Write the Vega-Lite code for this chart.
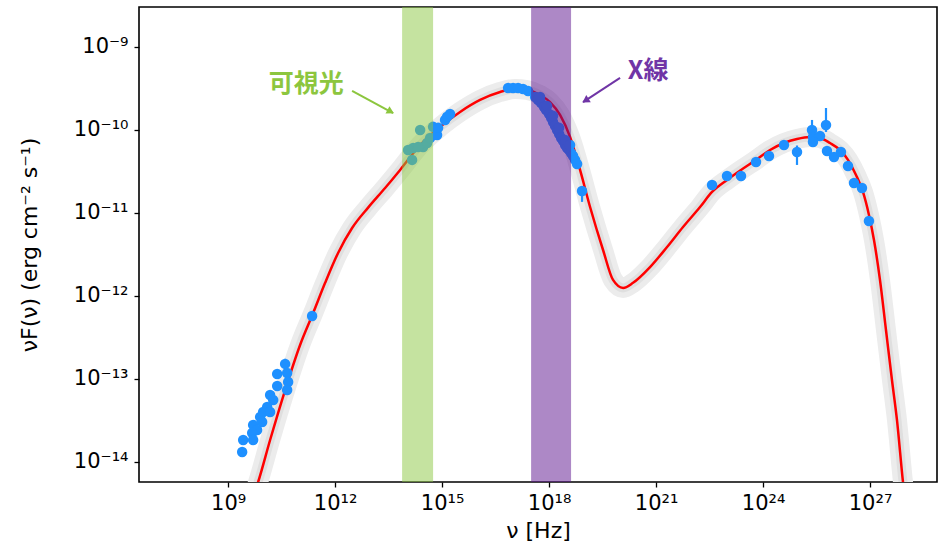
{
  "$schema": "https://vega.github.io/schema/vega-lite/v6.json",
  "width": 798,
  "height": 475,
  "autosize": {"type": "none"},
  "padding": {"left": 139, "top": 7, "right": 14, "bottom": 67},
  "background": "white",
  "config": {
    "font": "DejaVu Sans",
    "view": {"stroke": "black", "strokeWidth": 1.6},
    "axis": {"grid": false, "domain": false, "ticks": true, "tickColor": "black", "tickSize": 5, "tickWidth": 1.3, "labelColor": "black", "labelFontSize": 21, "titleFontSize": 22, "titleColor": "black", "titleFontWeight": "normal", "labelFont": "DejaVu Sans", "titleFont": "DejaVu Sans", "labelFlush": false, "labelOverlap": false}
  },
  "datasets": {
    "curve": [
      {"nu": 5.36e9, "f": 4.11e-15}, {"nu": 6.93e9, "f": 5.74e-15}, {"nu": 1.50e10, "f": 1.84e-14}, {"nu": 3.96e10, "f": 7.36e-14},
      {"nu": 1.04e11, "f": 2.57e-13}, {"nu": 2.42e11, "f": 6.24e-13}, {"nu": 5.24e11, "f": 1.44e-12}, {"nu": 1.21e12, "f": 3.30e-12},
      {"nu": 2.99e12, "f": 6.59e-12}, {"nu": 8.41e12, "f": 1.16e-11}, {"nu": 2.52e13, "f": 2.00e-11}, {"nu": 6.64e13, "f": 3.30e-11},
      {"nu": 2.42e14, "f": 6.59e-11}, {"nu": 8.77e14, "f": 1.09e-10}, {"nu": 3.19e15, "f": 1.65e-10}, {"nu": 1.16e16, "f": 2.30e-10},
      {"nu": 4.23e16, "f": 2.87e-10}, {"nu": 1.11e17, "f": 3.12e-10}, {"nu": 2.42e17, "f": 3.03e-10}, {"nu": 5.58e17, "f": 2.64e-10},
      {"nu": 1.06e18, "f": 2.17e-10}, {"nu": 2.03e18, "f": 1.52e-10}, {"nu": 3.87e18, "f": 8.24e-11}, {"nu": 7.38e18, "f": 3.30e-11},
      {"nu": 1.41e19, "f": 1.18e-11}, {"nu": 3.26e19, "f": 3.58e-12}, {"nu": 6.21e19, "f": 1.56e-12}, {"nu": 1.19e20, "f": 1.25e-12},
      {"nu": 2.26e20, "f": 1.44e-12}, {"nu": 6.78e20, "f": 2.23e-12}, {"nu": 2.03e21, "f": 3.89e-12}, {"nu": 5.70e21, "f": 6.78e-12},
      {"nu": 1.71e22, "f": 1.18e-11}, {"nu": 3.71e22, "f": 1.79e-11}, {"nu": 9.75e22, "f": 2.50e-11}, {"nu": 2.41e23, "f": 3.30e-11},
      {"nu": 6.34e23, "f": 4.36e-11}, {"nu": 1.57e24, "f": 5.74e-11}, {"nu": 3.86e24, "f": 6.97e-11}, {"nu": 8.95e24, "f": 7.80e-11},
      {"nu": 2.07e25, "f": 8.24e-11}, {"nu": 3.95e25, "f": 8.02e-11}, {"nu": 7.53e25, "f": 6.97e-11}, {"nu": 1.44e26, "f": 5.74e-11},
      {"nu": 2.41e26, "f": 4.36e-11}, {"nu": 4.04e26, "f": 2.87e-11}, {"nu": 6.34e26, "f": 1.79e-11}, {"nu": 9.33e26, "f": 9.46e-12},
      {"nu": 1.29e27, "f": 4.73e-12}, {"nu": 1.90e27, "f": 1.56e-12}, {"nu": 2.80e27, "f": 3.89e-13}, {"nu": 4.12e27, "f": 9.72e-14},
      {"nu": 5.69e27, "f": 3.21e-14}, {"nu": 8.39e27, "f": 5.74e-15}, {"nu": 9.55e27, "f": 3.48e-15}
    ],
    "points": [
      {"nu": 2.26e11, "f": 5.74e-13}, {"nu": 3.96e10, "f": 1.52e-13}, {"nu": 2.37e10, "f": 1.15e-13}, {"nu": 4.51e10, "f": 1.18e-13},
      {"nu": 4.81e10, "f": 9.20e-14}, {"nu": 2.37e10, "f": 8.24e-14}, {"nu": 4.51e10, "f": 7.36e-14}, {"nu": 1.50e10, "f": 6.41e-14},
      {"nu": 1.83e10, "f": 5.58e-14}, {"nu": 1.24e10, "f": 4.60e-14}, {"nu": 9.57e9, "f": 4.00e-14}, {"nu": 1.50e10, "f": 4.00e-14},
      {"nu": 7.89e9, "f": 3.48e-14}, {"nu": 8.98e9, "f": 3.03e-14}, {"nu": 5.02e9, "f": 2.79e-14}, {"nu": 6.50e9, "f": 2.43e-14},
      {"nu": 4.71e9, "f": 2.23e-14}, {"nu": 5.02e9, "f": 1.84e-14}, {"nu": 2.64e9, "f": 1.84e-14}, {"nu": 2.47e9, "f": 1.32e-14},
      {"nu": 1.44e14, "f": 4.36e-11}, {"nu": 1.54e14, "f": 6.07e-11}, {"nu": 2.42e14, "f": 1.00e-10}, {"nu": 2.93e14, "f": 6.24e-11},
      {"nu": 3.79e14, "f": 6.97e-11}, {"nu": 4.60e14, "f": 8.02e-11}, {"nu": 5.58e14, "f": 1.09e-10}, {"nu": 7.23e14, "f": 8.71e-11},
      {"nu": 7.71e14, "f": 1.06e-10}, {"nu": 1.11e14, "f": 5.74e-11}, {"nu": 2.12e14, "f": 6.24e-11}, {"nu": 1.21e15, "f": 1.32e-10},
      {"nu": 1.38e15, "f": 1.44e-10}, {"nu": 1.67e15, "f": 1.56e-10},
      {"nu": 7.08e16, "f": 3.21e-10}, {"nu": 9.77e16, "f": 3.21e-10}, {"nu": 1.35e17, "f": 3.21e-10}, {"nu": 1.86e17, "f": 3.12e-10},
      {"nu": 2.57e17, "f": 2.95e-10},
      {"nu": 4.05e17, "f": 2.50e-10}, {"nu": 4.91e17, "f": 2.30e-10}, {"nu": 5.96e17, "f": 2.11e-10}, {"nu": 7.23e17, "f": 1.89e-10},
      {"nu": 8.22e17, "f": 1.74e-10}, {"nu": 9.98e17, "f": 1.56e-10}, {"nu": 1.14e18, "f": 1.40e-10}, {"nu": 1.29e18, "f": 1.25e-10},
      {"nu": 1.47e18, "f": 1.12e-10}, {"nu": 1.67e18, "f": 1.00e-10}, {"nu": 1.91e18, "f": 8.95e-11}, {"nu": 2.17e18, "f": 8.02e-11},
      {"nu": 2.47e18, "f": 7.36e-11}, {"nu": 2.81e18, "f": 6.59e-11}, {"nu": 3.19e18, "f": 6.07e-11}, {"nu": 3.63e18, "f": 5.74e-11},
      {"nu": 4.13e18, "f": 5.28e-11}, {"nu": 4.70e18, "f": 4.86e-11}, {"nu": 5.35e18, "f": 4.36e-11}, {"nu": 6.08e18, "f": 3.89e-11},
      {"nu": 8.39e18, "f": 1.84e-11}, {"nu": 5.58e17, "f": 2.50e-10}, {"nu": 8.77e17, "f": 1.95e-10}, {"nu": 1.29e18, "f": 1.48e-10},
      {"nu": 1.91e18, "f": 1.06e-10}, {"nu": 2.81e18, "f": 7.59e-11}, {"nu": 3.87e18, "f": 6.59e-11},
      {"nu": 3.71e22, "f": 2.17e-11}, {"nu": 9.75e22, "f": 2.79e-11}, {"nu": 2.41e23, "f": 2.79e-11}, {"nu": 6.34e23, "f": 4.11e-11},
      {"nu": 1.47e24, "f": 4.86e-11}, {"nu": 3.86e24, "f": 6.59e-11}, {"nu": 8.95e24, "f": 5.43e-11}, {"nu": 2.36e25, "f": 1.00e-10},
      {"nu": 2.51e25, "f": 8.24e-11}, {"nu": 3.95e25, "f": 8.47e-11}, {"nu": 2.51e25, "f": 7.16e-11}, {"nu": 5.82e25, "f": 1.15e-10},
      {"nu": 6.21e25, "f": 5.58e-11}, {"nu": 9.75e25, "f": 4.73e-11}, {"nu": 1.53e26, "f": 5.43e-11}, {"nu": 2.41e26, "f": 3.68e-11},
      {"nu": 3.55e26, "f": 2.30e-11}, {"nu": 5.94e26, "f": 2.00e-11}, {"nu": 9.33e26, "f": 8.02e-12}
    ],
    "errors": [
      {"nu": 3.96e10, "f": 1.45e-13, "f2": 1.75e-13},
      {"nu": 8.39e18, "f": 1.36e-11, "f2": 2.0e-11},
      {"nu": 8.95e24, "f": 3.79e-11, "f2": 6.5e-11},
      {"nu": 2.36e25, "f": 8.5e-11, "f2": 1.32e-10},
      {"nu": 5.82e25, "f": 9.46e-11, "f2": 1.84e-10}
    ],
    "bands": [
      {"nu": 7.55e13, "nu2": 5.58e14, "band": "visible"},
      {"nu": 3.13e17, "nu2": 4.13e18, "band": "xray"}
    ],
    "arrows": [
      {"nu": 2.99e12, "f": 2.95e-10, "nu2": 4.23e13, "f2": 1.60e-10, "band": "visible"},
      {"nu": 9.77e19, "f": 4.24e-10, "nu2": 8.95e18, "f2": 2.17e-10, "band": "xray"}
    ],
    "heads": [
      {"nu": 3.37e13, "f": 1.69e-10, "angle": 118, "band": "visible"},
      {"nu": 1.12e19, "f": 2.30e-10, "angle": 237, "band": "xray"}
    ],
    "labels": [
      {"nu": 1.54e11, "f": 3.58e-10, "text": "可視光", "band": "visible"},
      {"nu": 5.96e20, "f": 5.14e-10, "text": "X線", "band": "xray"}
    ]
  },
  "layer": [
    {
      "encoding": {
        "x": {"field": "nu", "type": "quantitative", "scale": {"type": "log", "domain": [3.16e6, 7.55e28], "nice": false}, "title": "ν [Hz]",
          "axis": {"values": [1e9, 1e12, 1e15, 1e18, 1e21, 1e24, 1e27], "labelPadding": 5, "titlePadding": 7,
            "labelExpr": "datum.value < 3e10 ? '10⁹' : datum.value < 3e13 ? '10¹²' : datum.value < 3e16 ? '10¹⁵' : datum.value < 3e19 ? '10¹⁸' : datum.value < 3e22 ? '10²¹' : datum.value < 3e25 ? '10²⁴' : '10²⁷'"}},
        "y": {"field": "f", "type": "quantitative", "scale": {"type": "log", "domain": [5.74e-15, 3.03e-9], "nice": false}, "title": "νF(ν) (erg cm⁻² s⁻¹)",
          "axis": {"values": [1e-14, 1e-13, 1e-12, 1e-11, 1e-10, 1e-9], "labelPadding": 6, "titlePadding": 32,
            "labelExpr": "datum.value < 3e-14 ? '10⁻¹⁴' : datum.value < 3e-13 ? '10⁻¹³' : datum.value < 3e-12 ? '10⁻¹²' : datum.value < 3e-11 ? '10⁻¹¹' : datum.value < 3e-10 ? '10⁻¹⁰' : '10⁻⁹'"}}
      },
      "layer": [
        {
          "data": {"name": "curve"},
          "mark": {"type": "line", "color": "#ececec", "strokeWidth": 20, "strokeCap": "round", "strokeJoin": "round", "interpolate": "monotone", "clip": true}
        },
        {
          "data": {"name": "curve"},
          "mark": {"type": "line", "color": "#dfdfdf", "strokeWidth": 9, "strokeCap": "round", "strokeJoin": "round", "interpolate": "monotone", "clip": true}
        },
        {
          "data": {"name": "curve"},
          "mark": {"type": "line", "color": "#ff0000", "strokeWidth": 2.5, "interpolate": "monotone", "clip": true}
        },
        {
          "data": {"name": "errors"},
          "mark": {"type": "rule", "color": "#1e90ff", "strokeWidth": 2.2},
          "encoding": {"y2": {"field": "f2"}}
        },
        {
          "data": {"name": "points"},
          "mark": {"type": "point", "filled": true, "shape": "circle", "color": "#1e90ff", "size": 110, "opacity": 1}
        },
        {
          "data": {"name": "arrows"},
          "transform": [{"filter": "datum.band == 'visible'"}],
          "mark": {"type": "rule", "strokeWidth": 2, "color": "#8cc63e"},
          "encoding": {"x2": {"field": "nu2"}, "y2": {"field": "f2"}}
        },
        {
          "data": {"name": "arrows"},
          "transform": [{"filter": "datum.band == 'xray'"}],
          "mark": {"type": "rule", "strokeWidth": 2, "color": "#7035a6"},
          "encoding": {"x2": {"field": "nu2"}, "y2": {"field": "f2"}}
        },
        {
          "data": {"name": "heads"},
          "transform": [{"filter": "datum.band == 'visible'"}],
          "mark": {"type": "point", "shape": "triangle", "filled": true, "size": 70, "opacity": 1, "color": "#8cc63e"},
          "encoding": {"angle": {"field": "angle", "type": "quantitative", "scale": null}}
        },
        {
          "data": {"name": "heads"},
          "transform": [{"filter": "datum.band == 'xray'"}],
          "mark": {"type": "point", "shape": "triangle", "filled": true, "size": 70, "opacity": 1, "color": "#7035a6"},
          "encoding": {"angle": {"field": "angle", "type": "quantitative", "scale": null}}
        },
        {
          "data": {"name": "labels"},
          "transform": [{"filter": "datum.band == 'visible'"}],
          "mark": {"type": "text", "font": "Noto Sans CJK JP", "fontWeight": "bold", "fontSize": 25, "align": "center", "baseline": "middle", "color": "#8cc63e"},
          "encoding": {"text": {"field": "text", "type": "nominal"}}
        },
        {
          "data": {"name": "labels"},
          "transform": [{"filter": "datum.band == 'xray'"}],
          "mark": {"type": "text", "font": "Noto Sans CJK JP", "fontWeight": "bold", "fontSize": 25, "align": "center", "baseline": "middle", "color": "#7035a6"},
          "encoding": {"text": {"field": "text", "type": "nominal"}}
        }
      ]
    },
    {
      "data": {"name": "bands"},
      "transform": [{"filter": "datum.band == 'visible'"}],
      "mark": {"type": "rect", "opacity": 0.5, "color": "#8bc741"},
      "encoding": {
        "x": {"field": "nu", "type": "quantitative", "scale": {"type": "log", "domain": [3.16e6, 7.55e28], "nice": false}, "title": "ν [Hz]",
          "axis": {"values": [1e9, 1e12, 1e15, 1e18, 1e21, 1e24, 1e27], "labelPadding": 5, "titlePadding": 7,
            "labelExpr": "datum.value < 3e10 ? '10⁹' : datum.value < 3e13 ? '10¹²' : datum.value < 3e16 ? '10¹⁵' : datum.value < 3e19 ? '10¹⁸' : datum.value < 3e22 ? '10²¹' : datum.value < 3e25 ? '10²⁴' : '10²⁷'"}},
        "x2": {"field": "nu2"}
      }
    },
    {
      "data": {"name": "bands"},
      "transform": [{"filter": "datum.band == 'xray'"}],
      "mark": {"type": "rect", "opacity": 0.5, "color": "#5b118d"},
      "encoding": {
        "x": {"field": "nu", "type": "quantitative", "scale": {"type": "log", "domain": [3.16e6, 7.55e28], "nice": false}, "title": "ν [Hz]",
          "axis": {"values": [1e9, 1e12, 1e15, 1e18, 1e21, 1e24, 1e27], "labelPadding": 5, "titlePadding": 7,
            "labelExpr": "datum.value < 3e10 ? '10⁹' : datum.value < 3e13 ? '10¹²' : datum.value < 3e16 ? '10¹⁵' : datum.value < 3e19 ? '10¹⁸' : datum.value < 3e22 ? '10²¹' : datum.value < 3e25 ? '10²⁴' : '10²⁷'"}},
        "x2": {"field": "nu2"}
      }
    }
  ]
}
